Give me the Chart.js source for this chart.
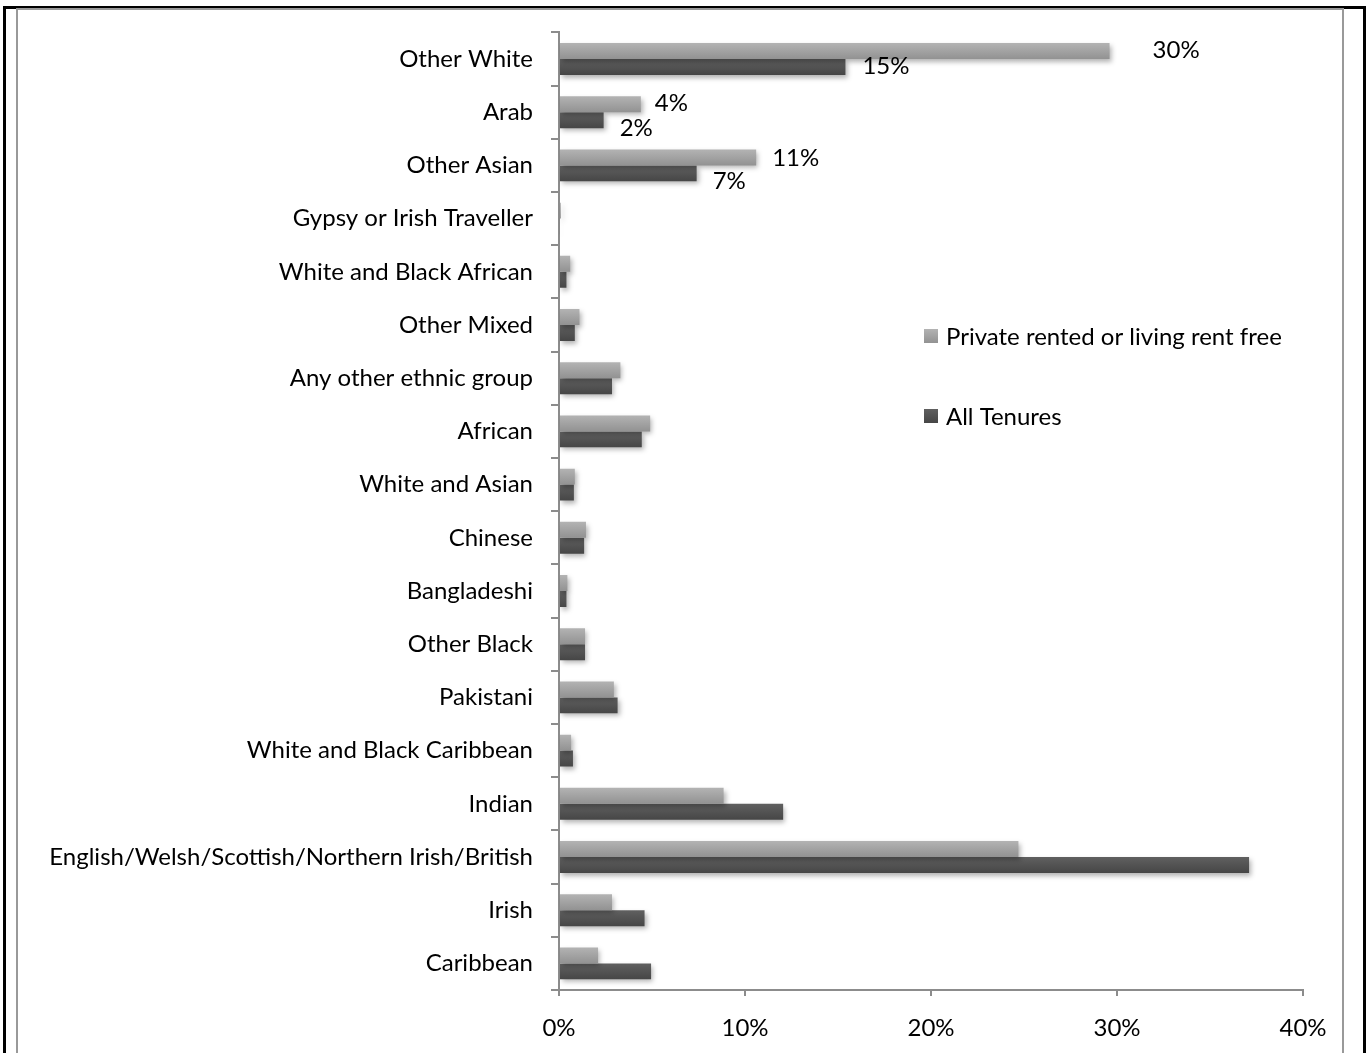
<!DOCTYPE html>
<html>
<head>
<meta charset="utf-8">
<title>Ethnic group by tenure</title>
<script src="https://cdn.jsdelivr.net/npm/chart.js@4/dist/chart.umd.min.js"></script>
<style>
  html, body { margin: 0; padding: 0; background: #ffffff; }
  #chart { display: block; }
</style>
</head>
<body>
<canvas id="chart" width="1368" height="1053"></canvas>
<script>
// Ethnic groups, top to bottom
const categories = [
  'Other White', 'Arab', 'Other Asian', 'Gypsy or Irish Traveller',
  'White and Black African', 'Other Mixed', 'Any other ethnic group', 'African',
  'White and Asian', 'Chinese', 'Bangladeshi', 'Other Black', 'Pakistani',
  'White and Black Caribbean', 'Indian',
  'English/Welsh/Scottish/Northern Irish/British', 'Irish', 'Caribbean'
];

// Share of households (%) by ethnic group
const privateRented = [29.6, 4.4, 10.6, 0.1, 0.6, 1.1, 3.3, 4.9, 0.85, 1.45, 0.45, 1.4, 2.95, 0.65, 8.85, 24.7, 2.85, 2.1];
const allTenures    = [15.4, 2.4, 7.4, 0.05, 0.4, 0.85, 2.85, 4.45, 0.8, 1.35, 0.4, 1.4, 3.15, 0.75, 12.05, 37.1, 4.6, 4.95];

const seriesNames = ['Private rented or living rent free', 'All Tenures'];

// Groups whose bars carry a value label
const labelledCategories = ['Other White', 'Arab', 'Other Asian'];

// Percentage axis ticks
const xTicks = [0, 10, 20, 30, 40];

const FONT = 'Lato, "Open Sans", "DejaVu Sans", sans-serif';
const FONT_SIZE = 24;

// Gradient stops for each series (top -> bottom of a bar)
const shades = [
  ['#b3b3b3', '#929292'],
  ['#606060', '#464646']
];

// Per-label nudges for the value labels [series][labelled row]
const labelDx = [[43, 14, 16], [17, 16, 16]];
const labelDy = [[-1, -1, 1], [-1, 8, 8]];

function barGradient(context, seriesIndex) {
  const chart = context.chart;
  const yScale = chart.scales && chart.scales.y;
  const flat = shades[seriesIndex][0];
  if (!yScale || context.dataIndex === undefined) return flat;
  const center = yScale.getPixelForValue(context.dataIndex);
  const band = (yScale.bottom - yScale.top) / categories.length;
  if (!isFinite(center) || !isFinite(band) || band <= 0) return flat;
  const barH = band * 0.6 / 2;
  const top = seriesIndex === 0 ? center - barH : center;
  const g = chart.ctx.createLinearGradient(0, top, 0, top + barH);
  g.addColorStop(0, shades[seriesIndex][0]);
  g.addColorStop(1, shades[seriesIndex][1]);
  return g;
}

// Frame lines around the figure
const framePlugin = {
  id: 'frame',
  beforeDraw(chart) {
    const ctx = chart.ctx;
    ctx.save();
    ctx.fillStyle = '#ffffff';
    ctx.fillRect(0, 0, chart.width, chart.height);
    ctx.fillStyle = '#000000';
    ctx.fillRect(3, 6, 1363, 3);     // top
    ctx.fillRect(3, 6, 3, 1053);     // left
    ctx.fillRect(1363, 6, 3, 1053);  // right
    ctx.fillStyle = '#999999';
    ctx.fillRect(16, 8, 1328, 2);    // inner top
    ctx.fillRect(16, 8, 2, 1053);    // inner left
    ctx.fillRect(1342, 8, 2, 1053);  // inner right
    ctx.restore();
  }
};

// Soft drop shadow under the bars, then value labels on top
const barDecorPlugin = {
  id: 'barDecor',
  beforeDatasetsDraw(chart) {
    const ctx = chart.ctx;
    ctx.save();
    ctx.shadowColor = 'rgba(0,0,0,0.30)';
    ctx.shadowBlur = 5;
    ctx.shadowOffsetX = 2;
    ctx.shadowOffsetY = 3;
  },
  afterDatasetsDraw(chart) {
    const ctx = chart.ctx;
    ctx.restore();
    ctx.save();
    ctx.fillStyle = '#000000';
    ctx.font = FONT_SIZE + 'px ' + FONT;
    ctx.textAlign = 'left';
    ctx.textBaseline = 'middle';
    chart.data.datasets.forEach((ds, di) => {
      const meta = chart.getDatasetMeta(di);
      labelledCategories.forEach((cat, k) => {
        const idx = categories.indexOf(cat);
        const el = meta.data[idx];
        const v = ds.data[idx];
        ctx.fillText(Math.round(v) + '%', el.x + labelDx[di][k], el.y + labelDy[di][k]);
      });
    });
    ctx.restore();
  }
};

// Legend drawn inside the plot area
const legendPlugin = {
  id: 'insideLegend',
  afterDraw(chart) {
    const ctx = chart.ctx;
    const x = 924, rows = [336, 416], sq = 14;
    ctx.save();
    ctx.font = FONT_SIZE + 'px ' + FONT;
    ctx.textBaseline = 'middle';
    ctx.fillStyle = '#000000';
    chart.data.datasets.forEach((ds, i) => {
      const y = rows[i];
      const g = ctx.createLinearGradient(0, y - sq / 2, 0, y + sq / 2);
      g.addColorStop(0, shades[i][0]);
      g.addColorStop(1, shades[i][1]);
      ctx.fillStyle = g;
      ctx.fillRect(x, y - sq / 2, sq, sq);
      ctx.fillStyle = '#000000';
      ctx.fillText(ds.label, x + sq + 8, y + 1);
    });
    ctx.restore();
  }
};

new Chart(document.getElementById('chart'), {
  type: 'bar',
  data: {
    labels: categories,
    datasets: [
      {
        label: seriesNames[0],
        data: privateRented,
        backgroundColor: (c) => barGradient(c, 0),
        barPercentage: 1.0,
        categoryPercentage: 0.6
      },
      {
        label: seriesNames[1],
        data: allTenures,
        backgroundColor: (c) => barGradient(c, 1),
        barPercentage: 1.0,
        categoryPercentage: 0.6
      }
    ]
  },
  options: {
    indexAxis: 'y',
    responsive: false,
    animation: false,
    devicePixelRatio: 1,
    layout: { padding: { top: 30, right: 65, bottom: 0, left: 0 } },
    plugins: {
      legend: { display: false },
      tooltip: { enabled: false }
    },
    scales: {
      x: {
        type: 'linear',
        min: xTicks[0],
        max: xTicks[xTicks.length - 1],
        afterBuildTicks: (scale) => { scale.ticks = xTicks.map(v => ({ value: v })); },
        afterFit: (scale) => { scale.height = 63; },
        ticks: {
          callback: (v) => v + '%',
          color: '#000000',
          font: { family: FONT, size: FONT_SIZE },
          padding: 18,
          maxRotation: 0
        },
        grid: {
          drawOnChartArea: false,
          drawTicks: true,
          tickLength: 6,
          color: '#8c8c8c',
          lineWidth: 2
        },
        border: { display: true, color: '#8c8c8c', width: 2 }
      },
      y: {
        type: 'category',
        offset: true,
        afterFit: (scale) => { scale.width = 559; },
        ticks: {
          color: '#000000',
          font: { family: FONT, size: FONT_SIZE },
          padding: 18,
          autoSkip: false
        },
        grid: {
          offset: true,
          drawOnChartArea: false,
          drawTicks: true,
          tickLength: 8,
          color: '#8c8c8c',
          lineWidth: 2
        },
        border: { display: true, color: '#8c8c8c', width: 2 }
      }
    }
  },
  plugins: [framePlugin, barDecorPlugin, legendPlugin]
});
</script>
</body>
</html>
